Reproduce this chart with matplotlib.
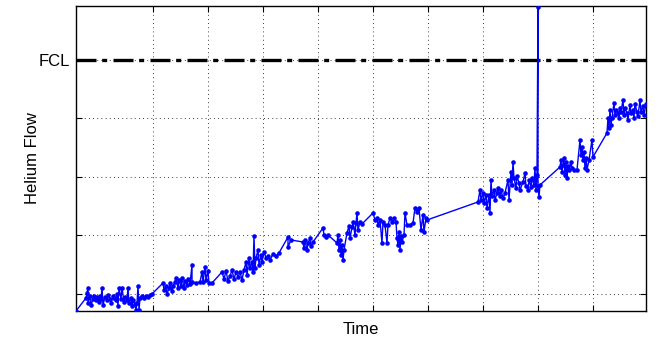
import matplotlib
matplotlib.use("Agg")
import matplotlib.pyplot as plt
import numpy as np

plt.rcParams['font.family'] = ['Liberation Sans', 'DejaVu Sans']

# helium flow readings (arbitrary units) against time (arbitrary units)
time = [0, 10, 11, 12, 12, 14, 15, 17, 18, 20, 21, 23, 24, 25, 26, 27, 29, 31, 32, 34,
        35, 37, 38, 40, 41, 42, 43, 45, 46, 48, 49, 51, 52, 53, 55, 56, 57, 59, 60, 61,
        62, 63, 64, 66, 68, 70, 72, 74,
        76, 87, 88, 90, 91, 93, 94, 96, 97, 99, 100, 102, 103, 105, 106, 108, 109, 111, 112, 114,
        116, 116, 120, 124, 126, 127, 129, 130, 132, 133, 136,
        146, 148, 150, 152, 154, 156, 158, 160, 162, 164, 166, 168, 170, 171, 173, 174, 176, 177,
        178, 179, 180, 182, 183, 185, 186, 188, 190, 192, 194, 197, 200, 203, 212, 212,
        215, 227, 228, 229, 231, 232, 234, 235, 237, 247, 248, 250, 252, 261, 262, 263, 264, 265,
        266, 267, 268, 271, 273, 274, 276, 277, 279, 280, 281, 282, 284, 286, 297, 299, 301, 302,
        304, 306, 307, 309, 311, 312, 314, 316, 318, 320, 321, 322, 323, 324, 325, 326, 328, 329,
        331, 334, 337, 339, 341, 343, 345, 347, 348, 350, 351,
        402, 404, 405, 407, 408, 410, 411, 413, 414, 415, 416, 418, 419, 421, 422, 424, 425, 427,
        429, 432, 433, 435, 436, 437, 438, 440, 441, 443, 444, 447, 449, 450, 452, 453, 455, 456,
        458, 459, 460, 461, 462, 462, 463, 464,
        484, 485, 486, 487, 488, 489, 490, 491, 492, 493, 495, 496, 498, 501, 504, 505, 506, 507,
        508, 509, 510, 511, 513, 516, 517, 531, 532, 533, 534, 535, 536, 538, 539, 540, 542, 543,
        544, 545, 547, 548, 549, 551, 552, 554, 555, 557, 558, 559, 561, 562, 564, 565, 567, 568,
        570]
flow = [0, 13, 18, 23, 8, 15, 6, 12, 15, 11, 14, 9, 15, 12, 23, 6, 14, 11, 16, 12,
        8, 15, 13, 11, 17, 5, 23, 12, 23, 9, 14, 11, 23, 8, 13, 5, 11, 7, 1, 8,
        25, 1, 13, 15, 13, 15, 14, 16,
        17, 28, 21, 25, 17, 23, 28, 20, 25, 29, 33, 23, 31, 25, 33, 23, 30, 26, 32, 27,
        46, 29, 28, 29, 39, 29, 44, 31, 40, 28, 28,
        39, 32, 40, 30, 35, 41, 32, 39, 34, 39, 31, 41, 49, 36, 53, 43, 49, 39,
        75, 43, 53, 61, 46, 56, 49, 59, 53, 55, 51, 57, 55, 58, 74, 64,
        71, 69, 63, 71, 61, 68, 73, 65, 69, 83, 76, 74, 76, 68, 76, 61, 71, 56,
        66, 51, 61, 78, 85, 73, 84, 89, 76, 88, 98, 81, 89, 87, 98, 91, 93, 86,
        91, 68, 89, 86, 68, 86, 93, 89, 93, 89, 73, 66, 79, 61, 75, 69, 76, 98,
        86, 86, 88, 103, 99, 103, 81, 96, 79, 93, 91,
        109, 121, 111, 118, 108, 116, 103, 116, 98, 131, 115, 121, 111, 118, 123, 115, 121, 113,
        118, 131, 111, 139, 126, 149, 133, 123, 135, 128, 121, 129, 138, 125, 121, 131, 124, 133,
        126, 143, 121, 136, 304, 125, 114, 126,
        144, 151, 139, 146, 153, 136, 149, 133, 145, 141, 149, 143, 141, 141, 171, 156, 164, 151,
        159, 143, 153, 141, 151, 171, 154, 178, 193, 183, 201, 186, 193, 208, 196, 201, 198, 193,
        203, 199, 211, 196, 203, 198, 191, 206, 198, 201, 193, 207, 199, 195, 211, 199, 205, 196,
        207]
fcl = 251
ytick_vals = [17, 75.5, 134, 192.5, 251]
ytick_labels = ['', '', '', '', 'FCL']
xtick_vals = [77, 132, 187, 242, 297, 352, 407, 462, 517]

fig = plt.figure(figsize=(6.65, 3.46), dpi=100)
ax = fig.add_axes([0.1143, 0.1012, 0.8571, 0.8815])

ax.plot(time, flow, color='#0000ff', linewidth=1.0, marker='o', markersize=3.3,
        markeredgewidth=0, zorder=3)
fl = ax.axhline(fcl, color='black', linewidth=2.4, zorder=2)
# dash-dot pattern (values get scaled by the line width)
fl.set_dashes([6.0, 1.7, 1.5, 1.9])

ax.set_xlim(0, 570)
ax.set_ylim(0, 305)
ax.set_xticks(xtick_vals)
ax.set_xticklabels([])
ax.set_yticks(ytick_vals)
ax.set_yticklabels(ytick_labels, fontsize=12)

ax.grid(True, color='black', linestyle=(0, (1, 4)), linewidth=0.6)
ax.tick_params(direction='in', length=4, top=True, right=True, width=0.8)
ax.tick_params(axis='y', pad=4)
for s in ax.spines.values():
    s.set_linewidth(1.0)

ax.set_xlabel('Time', fontsize=12)
ax.xaxis.set_label_coords(0.5, -0.035)
ax.set_ylabel('Helium Flow', fontsize=12)
ax.yaxis.set_label_coords(-0.064, 0.5)

fig.savefig('out.png', dpi=100)
